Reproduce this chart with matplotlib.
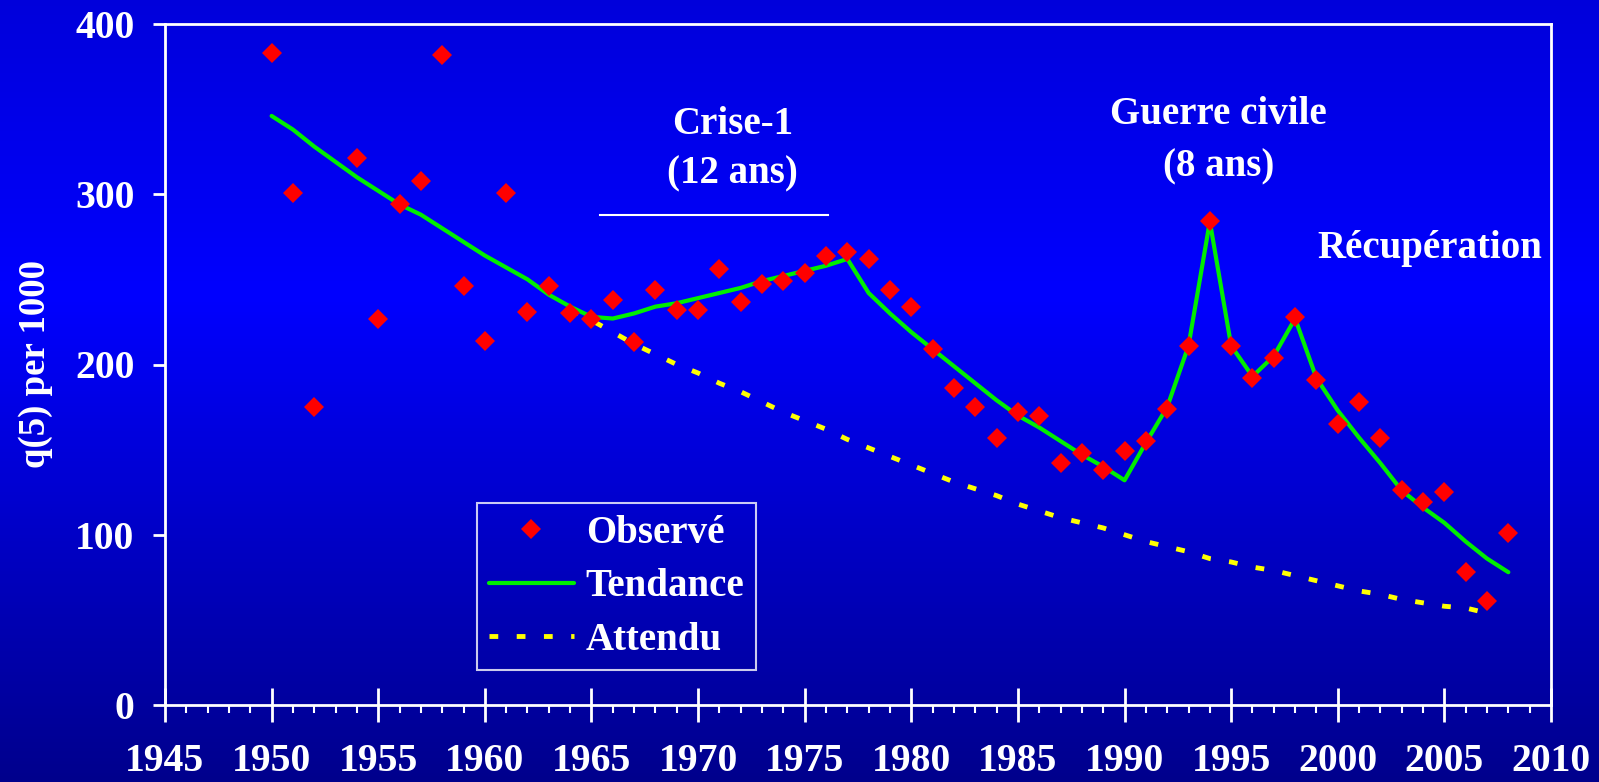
import numpy as np
import matplotlib
matplotlib.use("Agg")
import matplotlib.pyplot as plt
from matplotlib.colors import LinearSegmentedColormap
from matplotlib.ticker import MultipleLocator

# ---------------- data ----------------
obs_years = [1950, 1951, 1952, 1954, 1955, 1956, 1957, 1958, 1959, 1960,
             1961, 1962, 1963, 1964, 1965, 1966, 1967, 1968, 1969, 1970,
             1971, 1972, 1973, 1974, 1975, 1976, 1977, 1978, 1979, 1980,
             1981, 1982, 1983, 1984, 1985, 1986, 1987, 1988, 1989, 1990,
             1991, 1992, 1993, 1994, 1995, 1996, 1997, 1998, 1999, 2000,
             2001, 2002, 2003, 2004, 2005, 2006, 2007, 2008]
obs_values = [383, 301, 175, 321, 227, 294, 308, 382, 246, 214,
              301, 231, 246, 230, 227, 238, 213, 244, 232, 232,
              256, 237, 247, 249, 254, 264, 266, 262, 244, 234,
              209, 186, 175, 157, 172, 170, 142, 148, 138, 149,
              155, 174, 211, 284, 211, 192, 204, 228, 191, 165,
              178, 157, 126, 119, 125, 78, 61, 101]

trend_years = list(range(1950, 2009))
trend_values = [346, 338, 328, 319, 310, 302, 294, 288, 280, 272,
                264, 257, 250, 241, 234, 228, 227, 230, 234, 236,
                239, 242, 245, 249, 252, 255, 258, 262, 242, 230,
                219, 209, 199, 189, 179, 170, 163, 155, 147, 140,
                132, 154, 175, 211, 284, 211, 193, 205, 227, 192,
                173, 157, 142, 126, 116, 107, 96, 86, 78]

exp_years = list(range(1964, 2008))
exp_values = [232, 226, 219, 212, 206, 200, 195, 189, 184, 178,
              172, 167, 162, 156, 151, 146, 141, 136, 131, 127,
              123, 118, 114, 110, 107, 104, 100, 96, 93, 90,
              86, 84, 81, 79, 76, 73, 70, 67, 65, 62,
              60, 58, 57, 54]

series_labels = ["Observé", "Tendance", "Attendu"]
ylabel_text = "q(5) per 1000"
x_ticks = list(range(1945, 2011, 5))
y_ticks = [0, 100, 200, 300, 400]

# ---------------- figure ----------------
plt.rcParams['font.family'] = ['Liberation Serif', 'DejaVu Serif']
plt.rcParams['font.weight'] = 'bold'

fig = plt.figure(figsize=(15.99, 7.82), dpi=100)

# background gradient
bg = fig.add_axes([0, 0, 1, 1], zorder=-10)
cmap = LinearSegmentedColormap.from_list(
    "bg", [(0.0, (0, 0, 0.86)), (0.38, (0, 0, 1.0)), (1.0, (0, 0, 0.55))])
grad = np.linspace(0, 1, 256).reshape(-1, 1)
bg.imshow(grad, aspect='auto', cmap=cmap, extent=[0, 1, 0, 1], origin='upper')
bg.set_axis_off()

W, H = 1599, 782
left, right, top, bottom = 165, 1551, 24, 705
ax = fig.add_axes([left / W, 1 - bottom / H, (right - left) / W, (bottom - top) / H])
ax.set_facecolor('none')

ax.plot(trend_years, trend_values, color='#00EE00', lw=3.0, zorder=3,
        label=series_labels[1], solid_capstyle='round')
ax.plot(exp_years, exp_values, color='#FFFF00', lw=3.5, zorder=2,
        linestyle=(0, (1.8, 3.8)), dash_capstyle='butt', label=series_labels[2])
ax.plot(obs_years, obs_values, linestyle='none', marker='D', markersize=10.5,
        color='#FF0000', markeredgewidth=0, zorder=4, label=series_labels[0])

ax.set_xlim(1945, 2010)
ax.set_ylim(0, 400)
ax.set_xticks(x_ticks)
ax.set_yticks(y_ticks)
ax.xaxis.set_minor_locator(MultipleLocator(1))

for s in ax.spines.values():
    s.set_color('white')
    s.set_linewidth(2)

ax.tick_params(axis='y', which='major', direction='out', length=9, width=2,
               colors='white', labelsize=28.5, pad=13)
ax.tick_params(axis='x', which='major', direction='inout', length=25, width=2,
               colors='white', labelsize=28.5, pad=15)
ax.tick_params(axis='x', which='minor', direction='out', length=6, width=1.5,
               colors='white')
for lab in ax.get_xticklabels() + ax.get_yticklabels():
    lab.set_fontweight('bold')

ax.set_ylabel(ylabel_text, color='white', fontsize=26.5, fontweight='bold')
ax.yaxis.set_label_coords(-0.081, 0.5)

# annotations
ax.text(1971.6, 341, "Crise-1", color='white', fontsize=28, fontweight='bold',
        ha='center', va='center')
ax.text(1971.6, 312, "(12 ans)", color='white', fontsize=28, fontweight='bold',
        ha='center', va='center')
ax.plot([1965.4, 1976.1], [288, 288], color='white', lw=1.5, zorder=2)
ax.text(1994.4, 347, "Guerre civile", color='white', fontsize=28,
        fontweight='bold', ha='center', va='center')
ax.text(1994.4, 316, "(8 ans)", color='white', fontsize=28,
        fontweight='bold', ha='center', va='center')
ax.text(2004.3, 268, "Récupération", color='white', fontsize=28,
        fontweight='bold', ha='center', va='center')

handles, labels = ax.get_legend_handles_labels()
order = [labels.index(l) for l in series_labels]
leg = ax.legend([handles[i] for i in order], [labels[i] for i in order],
                loc='lower left', bbox_to_anchor=(0.225, 0.051),
                frameon=True, fancybox=False, fontsize=28, handlelength=2.2,
                handletextpad=0.3, labelspacing=0.42, borderpad=0.3,
                borderaxespad=0)
leg.get_frame().set_facecolor('none')
leg.get_frame().set_edgecolor('white')
leg.get_frame().set_linewidth(1.5)
for t in leg.get_texts():
    t.set_color('white')
    t.set_fontweight('bold')

fig.savefig("out.png", dpi=100)
